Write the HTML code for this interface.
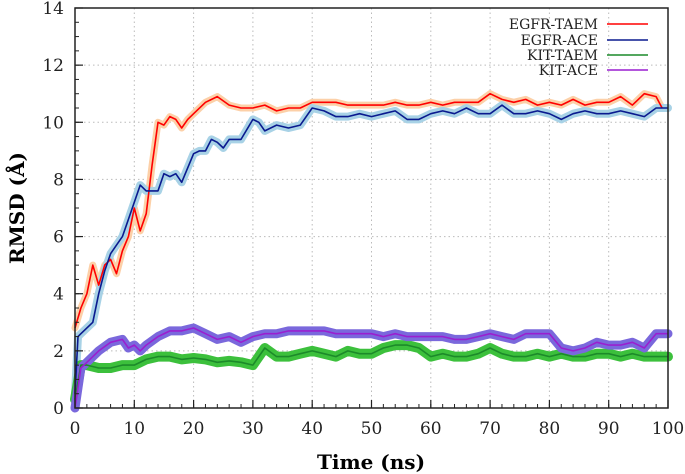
<!DOCTYPE html>
<html><head><meta charset="utf-8"><style>
body{margin:0;background:#fff;}
svg{display:block;font-family:"DejaVu Serif","Liberation Serif",serif;}
</style></head><body>
<svg id="chart" width="685" height="474" viewBox="0 0 685 474" xmlns="http://www.w3.org/2000/svg">
<g id="grid"></g>
<g id="bands"></g>
<g id="lines"></g>
<g id="axes"></g>
<text x="0" y="0" transform="translate(24,208) rotate(-90)" text-anchor="middle" font-size="20" font-weight="bold">RMSD (Å)</text>
<text x="371" y="469" text-anchor="middle" font-size="20" font-weight="bold">Time (ns)</text>
<g id="legend"></g>
</svg>
<script>
const xTicks=[0,10,20,30,40,50,60,70,80,90,100];
const yTicks=[0,2,4,6,8,10,12,14];
const seriesNames=["EGFR-TAEM","EGFR-ACE","KIT-TAEM","KIT-ACE"];
const egfrTaemT=[0,1,2,3,4,5,6,7,8,9,10,11,12,13,14,15,16,17,18,19,20,22,24,26,28,30,32,34,36,38,40,42,44,46,48,50,52,54,56,58,60,62,64,66,68,70,72,74,76,78,80,82,84,86,88,90,92,94,96,98,99];
const egfrTaemV=[2.8,3.5,4,5,4.3,5,5.2,4.7,5.5,6,7,6.2,6.8,8.5,10,9.9,10.2,10.1,9.8,10.1,10.3,10.7,10.9,10.6,10.5,10.5,10.6,10.4,10.5,10.5,10.7,10.7,10.7,10.6,10.6,10.6,10.6,10.7,10.6,10.6,10.7,10.6,10.7,10.7,10.7,11,10.8,10.7,10.8,10.6,10.7,10.6,10.8,10.6,10.7,10.7,10.9,10.6,11,10.9,10.5];
const egfrAceT=[0,0.5,1,3,4,5,6,7,8,9,10,11,12,13,14,15,16,17,18,20,21,22,23,24,25,26,27,28,30,31,32,34,36,38,40,42,44,46,48,50,52,54,56,58,60,62,64,66,68,70,72,74,76,78,80,82,84,86,88,90,92,94,96,98,100];
const egfrAceV=[0.5,2.5,2.6,3,4,4.8,5.4,5.7,6,6.6,7.2,7.8,7.6,7.6,7.6,8.2,8.1,8.2,7.9,8.9,9,9,9.4,9.3,9.1,9.4,9.4,9.4,10.1,10,9.7,9.9,9.8,9.9,10.5,10.4,10.2,10.2,10.3,10.2,10.3,10.4,10.1,10.1,10.3,10.4,10.3,10.5,10.3,10.3,10.6,10.3,10.3,10.4,10.3,10.1,10.3,10.4,10.3,10.3,10.4,10.3,10.2,10.5,10.5];
const kitTaemT=[0,1,2,4,6,8,10,12,14,16,18,20,22,24,26,28,30,32,34,36,38,40,42,44,46,48,50,52,54,56,58,60,62,64,66,68,70,72,74,76,78,80,82,84,86,88,90,92,94,96,98,100];
const kitTaemV=[0.3,1.5,1.5,1.4,1.4,1.5,1.5,1.7,1.8,1.8,1.7,1.75,1.7,1.6,1.65,1.6,1.5,2.1,1.8,1.8,1.9,2,1.9,1.8,2,1.9,1.9,2.1,2.2,2.2,2.1,1.8,1.9,1.8,1.8,1.9,2.1,1.9,1.8,1.8,1.9,1.8,1.9,1.8,1.8,1.9,1.9,1.8,1.9,1.8,1.8,1.8];
const kitAceT=[0,1,2,4,6,8,9,10,11,12,14,16,18,20,22,24,26,28,30,32,34,36,38,40,42,44,46,48,50,52,54,56,58,60,62,64,66,68,70,72,74,76,78,80,82,84,86,88,90,92,94,96,98,100];
const kitAceV=[0,1.4,1.6,2,2.3,2.4,2.1,2.2,2.0,2.2,2.5,2.7,2.7,2.8,2.6,2.4,2.5,2.3,2.5,2.6,2.6,2.7,2.7,2.7,2.7,2.6,2.6,2.6,2.6,2.5,2.6,2.5,2.5,2.5,2.5,2.4,2.4,2.5,2.6,2.5,2.4,2.6,2.6,2.6,2.1,2.0,2.1,2.3,2.2,2.2,2.3,2.1,2.6,2.6];

const L=75,R=668,T=8,B=408;
const xs=v=>L+(v/100)*(R-L);
const ys=v=>B-(v/14)*(B-T);
const NS="http://www.w3.org/2000/svg";
function mk(tag,parent,attrs){const e=document.createElementNS(NS,tag);for(const k in attrs)e.setAttribute(k,attrs[k]);parent.appendChild(e);return e;}
const grid=document.getElementById('grid'),axes=document.getElementById('axes');
xTicks.forEach(t=>{
  if(t>0&&t<100){const g=mk('line',grid,{x1:xs(t),x2:xs(t),y1:T,y2:B,stroke:'#bbb','stroke-dasharray':'1.5 3','stroke-width':1});
  
  }
  const lb=mk('text',axes,{x:xs(t),y:B+26,'text-anchor':'middle','font-size':17,fill:'#222'});lb.textContent=t;
  
  
  mk('line',axes,{x1:xs(t),x2:xs(t),y1:B,y2:B-8,stroke:'#222','stroke-width':1.2});
});
for(let v=0;v<=100;v+=2){mk('line',axes,{x1:xs(v),x2:xs(v),y1:B,y2:B-4,stroke:'#222','stroke-width':1});}
yTicks.forEach(t=>{
  if(t>0&&t<14){const g=mk('line',grid,{x1:L,x2:R,y1:ys(t),y2:ys(t),stroke:'#bbb','stroke-dasharray':'1.5 3','stroke-width':1});
  
  }
  const lb=mk('text',axes,{x:L-11,y:ys(t)+6,'text-anchor':'end','font-size':17,fill:'#222'});lb.textContent=t;
  
  
  mk('line',axes,{x1:L,x2:L+8,y1:ys(t),y2:ys(t),stroke:'#222','stroke-width':1.2});
});
for(let v=0;v<=14;v+=0.5){mk('line',axes,{x1:L,x2:L+4,y1:ys(v),y2:ys(v),stroke:'#222','stroke-width':1});}
const fr=mk('rect',axes,{x:L,y:T,width:R-L,height:B-T,fill:'none',stroke:'#222','stroke-width':1.5});



const series=[[egfrTaemT,egfrTaemV,'#f00','#fcd0a8',7],[egfrAceT,egfrAceV,'#0a1a8f','#a8d2e6',8],[kitTaemT,kitTaemV,'#1c8a2a','#3cc03c',10],[kitAceT,kitAceV,'#9a1fd0','#7a68dc',9]];
const bands=document.getElementById('bands'),lines=document.getElementById('lines');
series.forEach((s,i)=>{
  const pts=s[0].map((t,j)=>xs(t).toFixed(1)+','+ys(s[1][j]).toFixed(1)).join(' ');
  const b=mk('polyline',bands,{points:pts,fill:'none',stroke:s[3],'stroke-width':s[4],'stroke-linejoin':'round','stroke-linecap':'round'});
  
  
  const l=mk('polyline',lines,{points:pts,fill:'none',stroke:s[2],'stroke-width':1.6,'stroke-linejoin':'round'});
  
  
});
const leg=document.getElementById('legend');
const legY=[24,40,55,70];
seriesNames.forEach((n,i)=>{
  const tx=mk('text',leg,{x:598,y:legY[i]+5,'text-anchor':'end','font-size':14,fill:'#222'});tx.textContent=n;
  
  
  const ln=mk('line',leg,{x1:607,x2:648,y1:legY[i],y2:legY[i],stroke:series[i][2],'stroke-width':1.6});
  
  
});
</script>
</body></html>
